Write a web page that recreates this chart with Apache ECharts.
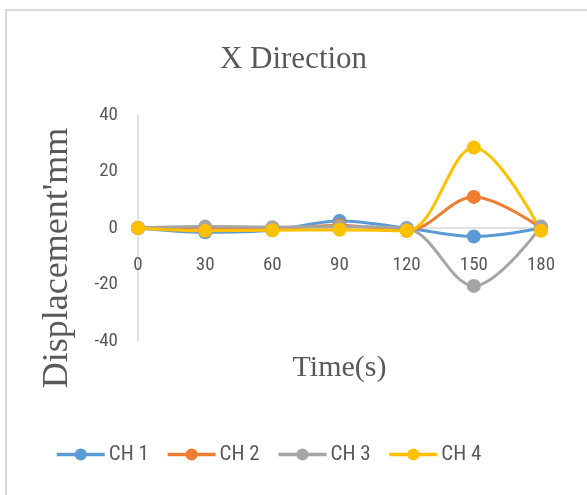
<!DOCTYPE html>
<html><head><meta charset="utf-8">
<script src="https://cdn.jsdelivr.net/npm/echarts@6/dist/echarts.min.js"></script>
<style>html,body{margin:0;padding:0;background:#fff}#c{width:587px;height:495px}</style>
</head><body><div id="c"></div>
<script>
const categories = ['0','30','60','90','120','150','180'];
const ch1 = [0, -1.5, -0.8, 2.5, 0, -3, 0];
const ch2 = [0, 0, -0.3, 1, -1, 11, 0];
const ch3 = [0, 0.5, 0.3, 0.5, -0.2, -20.5, 0.5];
const ch4 = [0, -1, -0.8, -0.6, -1, 28.5, -1];
const seriesNames = ['CH 1','CH 2','CH 3','CH 4'];
const colors = ['#5b9bd5','#ed7d31','#a5a5a5','#ffc000'];
const narrow = '"Liberation Sans Narrow", "Roboto Condensed", sans-serif';
const serif = '"Liberation Serif", "Times New Roman", serif';
const chart = echarts.init(document.getElementById('c'));
const data = [ch1, ch2, ch3, ch4];
const series = data.map((d,i)=>({name:seriesNames[i], type:'line', data:d, smooth:0.35, symbol:'circle', symbolSize:14, lineStyle:{width:3}, z:3}));
series[0].markLine = {silent:true, symbol:'none', label:{show:false}, lineStyle:{color:'#d9d9d9', width:1.5, type:'solid'}, data:[{yAxis:0}], z:1};
chart.setOption({
  animation: false,
  color: colors,
  graphic: [{type:'rect', shape:{x:6,y:10,width:700,height:600}, style:{fill:'none', stroke:'#d9d9d9', lineWidth:2}, silent:true, z:-1}],
  title: {text:'X Direction', left:'center', top:39, textStyle:{fontFamily:serif, fontSize:31, fontWeight:'normal', color:'#595959'}},
  legend: {top:439, left:50, itemWidth:48, itemHeight:15, itemGap:17, lineStyle:{width:3.5}, textStyle:{fontFamily:narrow, fontSize:21, color:'#595959', padding:[0,0,0,-1]}, data: seriesNames},
  grid: {left:138, right:46, top:115, bottom:154},
  xAxis: {type:'category', data:categories, boundaryGap:false,
    name:'Time(s)', nameLocation:'middle', nameGap:12,
    nameTextStyle:{fontFamily:serif, fontSize:30, color:'#595959', verticalAlign:'top'},
    axisLine:{show:false, onZero:false}, axisTick:{show:false},
    axisLabel:{fontFamily:narrow, fontSize:19, color:'#595959', margin:-85}},
  yAxis: {type:'value', min:-40, max:40, interval:20,
    name:"Displacement'mm", nameLocation:'middle', nameGap:62,
    nameTextStyle:{fontFamily:serif, fontSize:36, color:'#595959', padding:[0,60,0,0]},
    axisLine:{show:true, lineStyle:{color:'#d9d9d9', width:1.5}}, axisTick:{show:false}, splitLine:{show:false},
    axisLabel:{fontFamily:narrow, fontSize:19, color:'#595959', margin:20}},
  series: series
});
</script></body></html>
